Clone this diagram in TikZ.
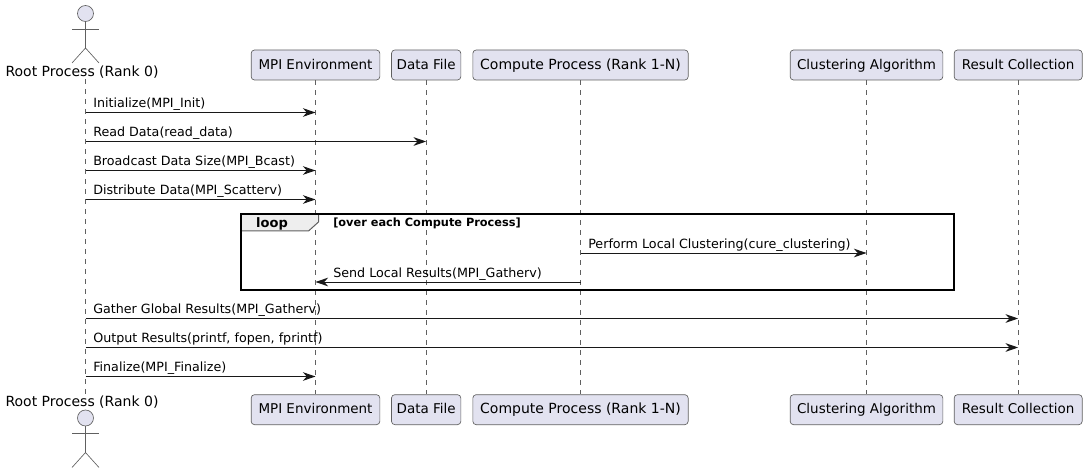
\documentclass[tikz,border=0pt]{standalone}
\usepackage{fontspec}
\setmainfont{DejaVu Sans}
\usepackage{tikz}
\usetikzlibrary{arrows.meta, positioning}
\definecolor{boxfill}{HTML}{E2E2F0}
\definecolor{linecol}{HTML}{181818}
\definecolor{thincol}{HTML}{606060}
\definecolor{tabfill}{HTML}{EEEEEE}
\tikzstyle{part} = [rectangle, rounded corners=2.5pt, minimum height=22.5pt, text height=8.5pt, text depth=2.2pt, inner xsep=0pt, inner ysep=0pt, draw=thincol, line width=.5pt, fill=boxfill, font=\fontsize{10.1}{12}\selectfont]
\tikzstyle{actorlabel} = [inner sep=0pt, font=\fontsize{10.5}{12}\selectfont]
\tikzstyle{actorline} = [draw=thincol, line width=.5pt, fill=boxfill]
\tikzstyle{life} = [thincol, line width=.4pt, dash pattern=on 3.75pt off 3.75pt]
\tikzstyle{arrow} = [linecol, line width=.75pt, -{Stealth[length=9.5pt,width=6.5pt,inset=3pt]}]
\tikzstyle{msg} = [anchor=base west, inner sep=0pt, text=black, font=\fontsize{9.52}{12}\selectfont]

\begin{document}
\begin{tikzpicture}[x=.75pt, y=-.75pt, node distance=235.5pt and 8.25pt]
            \useasboundingbox (0,0) rectangle (1089,474);
            \coordinate (root) at (85.5,0);
            \node (rootlabel) [actorlabel] at (82,72.5) {Root Process (Rank 0)};
            \node (rootlabelb) [actorlabel] at (82,402) {Root Process (Rank 0)};

            \node (mpi) [part, minimum width=96.5pt] at (315.5,65) {MPI Environment};
            \node (data) [part, minimum width=52pt, right=8.25pt of mpi] {Data File};
            \node (compute) [part, minimum width=161.5pt, font=\fontsize{10.5}{12}\selectfont, right=8.5pt of data] {Compute Process (Rank 1-N)};
            \node (cluster) [part, minimum width=114.5pt, right=76pt of compute] {Clustering Algorithm};
            \node (result) [part, minimum width=96pt, right=8pt of cluster] {Result Collection};

            \node (mpib) [part, minimum width=96.5pt, below=of mpi] {MPI Environment};
            \node (datab) [part, minimum width=52pt, below=of data] {Data File};
            \node (computeb) [part, minimum width=161.5pt, font=\fontsize{10.5}{12}\selectfont, below=of compute] {Compute Process (Rank 1-N)};
            \node (clusterb) [part, minimum width=114.5pt, below=of cluster] {Clustering Algorithm};
            \node (resultb) [part, minimum width=96pt, below=of result] {Result Collection};

            \draw [life] (root |- rootlabel.south) -- (root |- rootlabelb.north);
            \draw [life] (mpi) -- (mpib);
            \draw [life] (data) -- (datab);
            \draw [life] (compute) -- (computeb);
            \draw [life] (cluster) -- (clusterb);
            \draw [life] (result) -- (resultb);

            % actors
            \foreach \ay in {0,404.5}{
                \draw [actorline] (85.5,13.5+\ay) circle (6pt);
                \draw [actorline, fill=none] (85.5,21.5+\ay) -- (85.5,48+\ay);
                \draw [actorline, fill=none] (72,29+\ay) -- (99,29+\ay);
                \draw [actorline, fill=none] (72,63+\ay) -- (85.5,48+\ay) -- (99,63+\ay);
            }

            \coordinate (m1) at (0,112.5);
            \coordinate (m2) at (0,141.5);
            \coordinate (m3) at (0,170.5);
            \coordinate (m4) at (0,199.5);
            \coordinate (m5) at (0,253);
            \coordinate (m6) at (0,282);
            \coordinate (m7) at (0,318.5);
            \coordinate (m8) at (0,347.5);
            \coordinate (m9) at (0,376.5);

            \draw [arrow] (root |- m1) -- (mpi |- m1);
            \draw [arrow] (root |- m2) -- (data |- m2);
            \draw [arrow] (root |- m3) -- (mpi |- m3);
            \draw [arrow] (root |- m4) -- (mpi |- m4);
            \draw [arrow] (compute |- m5) -- (cluster |- m5);
            \draw [arrow] (compute |- m6) -- (mpi |- m6);
            \draw [arrow] (root |- m7) -- (result |- m7);
            \draw [arrow] (root |- m8) -- (result |- m8);
            \draw [arrow] (root |- m9) -- (mpi |- m9);

            \node (t1) [msg] at (93,107.5) {Initialize(MPI\_Init)};
            \node (t2) [msg] at (93,136.5) {Read Data(read\_data)};
            \node (t3) [msg] at (93,165.5) {Broadcast Data Size(MPI\_Bcast)};
            \node (t4) [msg] at (93,194.5) {Distribute Data(MPI\_Scatterv)};
            \node (t5) [msg] at (588,248) {Perform Local Clustering(cure\_clustering)};
            \node (t6) [msg] at (333,277) {Send Local Results(MPI\_Gatherv)};
            \node (t7) [msg] at (93,313.5) {Gather Global Results(MPI\_Gatherv)};
            \node (t8) [msg] at (93,342.5) {Output Results(printf, fopen, fprintf)};
            \node (t9) [msg] at (93,371.5) {Finalize(MPI\_Finalize)};

            % loop frame
            \draw [thincol, line width=.75pt, fill=tabfill] (241,214.5) -- (318.5,214.5) -- (318.5,222) -- (308.5,231) -- (241,231) -- cycle;
            \draw [black, line width=1.5pt] (241,214.5) rectangle (954,290);
            \node (looplabel) [inner sep=0pt, anchor=base, font=\fontsize{9.75}{12}\bfseries\selectfont] at (272,228) {loop};
            \node (looptitle) [inner sep=0pt, anchor=base west, font=\fontsize{8.5}{10}\bfseries\selectfont] at (333,227) {[over each Compute Process]};
        \end{tikzpicture}
\end{document}
